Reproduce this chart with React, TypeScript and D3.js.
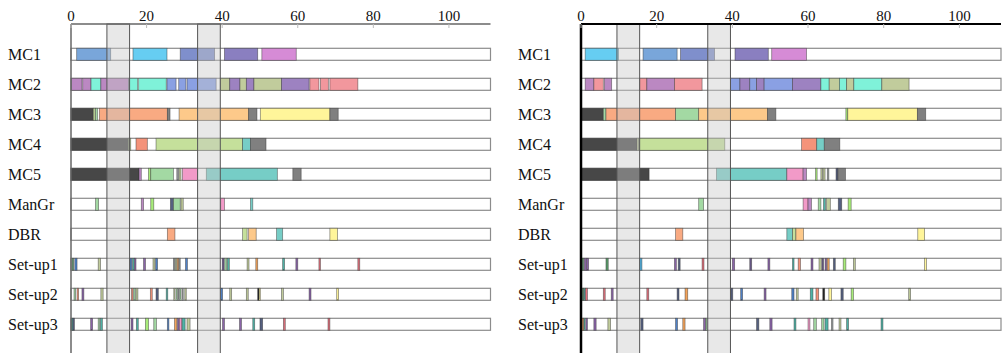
import React from "react";
import * as d3 from "d3";

const rows = ["MC1", "MC2", "MC3", "MC4", "MC5", "ManGr", "DBR", "Set-up1", "Set-up2", "Set-up3"];
const xTicks = [0, 20, 40, 60, 80, 100];
const xMax = 111;
const shadedWindows: [number, number][] = [[9.5, 15.5], [33.5, 39.5]];

const palette: Record<string, string> = {
  blue: "#79a6da", cyan: "#66cdf2", slate: "#7f8fcc", violet: "#8a7fc0", orchid: "#d68bd6",
  mauve: "#bb88c2", pink: "#f2979d", aqua: "#7ff2d9", olive: "#c1cc9c", purple: "#9d82c1",
  corn: "#8aa0e3", dark: "#474747", gray: "#808080", salmon: "#f9aa82", coral: "#f4937a",
  lorange: "#fdc98a", yellow: "#fff59a", lgreen: "#c5e09b", teal: "#76cdc6", green: "#a3d9a3",
  pink2: "#f29ac8", bgreen: "#a8ec7a", red: "#e0707c", orange: "#f3a35a", dkpurple: "#6a5a8a",
  dkgreen: "#5a9a6a", dkslate: "#556080", black: "#222222", sblue: "#4f80c6", spurple: "#8a64a8",
  steal: "#4fb3a6", sgray: "#9aa0a0", sblue2: "#50b0e0",
};

type Seg = [number, number, string];

// ---------- Left panel ----------
const leftMC1: Seg[] = [[1.5, 10.5, "blue"], [16.4, 25.4, "cyan"], [28.9, 38.0, "slate"], [40.6, 49.4, "violet"], [50.5, 59.6, "orchid"]];
const leftMC2: Seg[] = [
  [0.1, 2.9, "mauve"], [3.1, 5.3, "mauve"], [5.3, 7.9, "aqua"], [7.9, 15.3, "mauve"], [15.3, 17.6, "aqua"],
  [17.9, 25.2, "aqua"], [25.4, 27.8, "corn"], [28.5, 30.4, "corn"], [30.7, 38.4, "corn"], [39.5, 42.0, "olive"],
  [42.0, 44.7, "purple"], [44.7, 46.4, "olive"], [46.4, 48.4, "purple"], [48.4, 55.7, "olive"], [55.7, 63.0, "purple"],
  [63.2, 65.6, "pink"], [66.0, 68.1, "pink"], [68.5, 75.9, "pink"],
];
const leftMC3: Seg[] = [
  [0, 5.9, "dark"], [5.9, 6.4, "lgreen"], [6.5, 7.0, "green"], [7.5, 25.5, "salmon"], [25.5, 26.2, "gray"],
  [28.6, 47.0, "lorange"], [47.0, 49.2, "gray"], [50.1, 68.5, "yellow"], [68.5, 70.7, "gray"],
];
const leftMC4: Seg[] = [
  [0, 15.2, "dark"], [15.2, 15.8, "lgreen"], [17.2, 20.2, "coral"], [22.5, 45.4, "lgreen"], [45.4, 47.5, "teal"], [47.5, 51.6, "gray"],
];
const leftMC5: Seg[] = [
  [0, 18.0, "dark"], [18.0, 18.6, "mauve"], [20.5, 21.1, "bgreen"], [21.1, 27.1, "green"], [28.0, 28.4, "sgray"],
  [28.6, 29.1, "olive"], [29.5, 33.5, "pink2"], [35.8, 54.6, "teal"], [58.7, 60.9, "gray"],
];
const leftManGr: Seg[] = [
  [6.5, 7.3, "green"], [18.6, 19.2, "mauve"], [21.1, 21.9, "bgreen"], [26.3, 27.1, "dkslate"], [27.1, 28.9, "green"],
  [29.1, 29.7, "olive"], [39.6, 40.6, "pink2"], [47.5, 48.1, "teal"],
];
const leftDBR: Seg[] = [[25.5, 27.5, "salmon"], [45.4, 46.6, "lgreen"], [47.0, 49.0, "lorange"], [54.4, 56.0, "teal"], [68.5, 70.5, "yellow"]];
const leftSet1: Seg[] = [
  [0.3, 0.7, "dkgreen"], [1.0, 1.6, "sblue"], [7.2, 7.8, "olive"], [15.6, 16.1, "sblue"], [16.3, 16.7, "steal"], [16.8, 17.2, "spurple"],
  [19.2, 19.7, "spurple"], [21.7, 22.2, "olive"], [22.4, 22.9, "sblue"], [27.1, 27.5, "sgray"], [27.6, 28.0, "olive"], [28.1, 28.5, "orange"],
  [28.6, 28.9, "sgray"], [30.3, 30.8, "sblue"], [40.0, 40.5, "dkpurple"], [40.7, 41.2, "green"], [41.4, 41.9, "steal"], [46.6, 47.1, "olive"],
  [48.9, 49.4, "orange"], [56.0, 56.5, "steal"], [59.5, 60.0, "spurple"], [65.6, 66.0, "red"], [75.9, 76.4, "red"],
];
const leftSet2: Seg[] = [
  [0.8, 1.2, "green"], [1.6, 2.0, "coral"], [2.9, 3.4, "spurple"], [7.9, 8.5, "olive"], [16.0, 16.4, "coral"], [16.6, 17.0, "green"],
  [17.2, 17.7, "olive"], [21.0, 21.5, "coral"], [22.5, 23.1, "dkslate"], [25.2, 25.6, "steal"], [27.2, 27.5, "olive"], [27.8, 28.1, "green"],
  [28.3, 28.6, "sgray"], [28.8, 29.1, "green"], [29.4, 29.7, "sgray"], [30.1, 30.5, "olive"], [39.6, 40.1, "sblue"], [42.0, 42.5, "olive"],
  [46.4, 46.9, "olive"], [49.4, 49.8, "black"], [49.8, 50.1, "yellow"], [55.7, 56.2, "olive"], [63.0, 63.5, "spurple"], [70.3, 70.8, "yellow"],
];
const leftSet3: Seg[] = [
  [0.1, 0.5, "steal"], [0.5, 0.9, "dkslate"], [5.2, 5.7, "spurple"], [7.2, 7.6, "green"], [7.8, 8.3, "steal"], [15.9, 16.4, "spurple"],
  [17.3, 17.8, "steal"], [19.7, 20.5, "bgreen"], [21.9, 22.6, "green"], [25.5, 25.9, "sblue"], [27.4, 28.0, "orange"], [28.2, 28.6, "spurple"],
  [28.7, 29.3, "pink2"], [29.4, 30.2, "steal"], [30.7, 31.5, "olive"], [40.1, 40.6, "spurple"], [44.6, 45.1, "spurple"], [48.1, 48.6, "steal"],
  [50.0, 50.7, "dkslate"], [56.2, 56.7, "red"], [68.0, 68.5, "red"],
];

// ---------- Right panel ----------
const rightMC1: Seg[] = [[1.1, 9.9, "cyan"], [16.4, 25.4, "blue"], [26.3, 35.3, "slate"], [40.7, 49.5, "violet"], [50.4, 59.6, "orchid"]];
const rightMC2: Seg[] = [
  [1.1, 3.4, "mauve"], [3.4, 5.9, "pink"], [6.2, 8.1, "mauve"], [15.5, 17.4, "pink"], [17.4, 24.7, "mauve"], [24.7, 32.0, "pink"],
  [39.5, 42.0, "corn"], [42.0, 44.6, "purple"], [44.6, 46.4, "corn"], [46.4, 48.4, "purple"], [48.4, 55.9, "corn"], [55.9, 63.4, "purple"],
  [63.4, 65.6, "aqua"], [65.6, 68.3, "olive"], [68.3, 70.2, "aqua"], [70.2, 72.1, "olive"], [72.1, 79.5, "aqua"], [79.5, 86.7, "olive"],
];
const rightMC3: Seg[] = [
  [0, 5.9, "dark"], [5.9, 6.6, "green"], [6.6, 25.0, "salmon"], [25.0, 31.1, "green"], [31.1, 49.3, "lorange"], [49.3, 51.5, "gray"],
  [70.0, 70.5, "bgreen"], [70.5, 88.9, "yellow"], [88.9, 91.1, "gray"],
];
const rightMC4: Seg[] = [[0, 14.8, "dark"], [14.8, 15.3, "olive"], [15.3, 38.0, "lgreen"], [58.3, 62.3, "coral"], [62.3, 64.3, "teal"], [64.3, 68.4, "gray"]];
const rightMC5: Seg[] = [
  [0, 18.0, "dark"], [35.8, 54.4, "teal"], [54.4, 58.7, "pink2"], [58.7, 59.6, "mauve"], [62.0, 62.4, "bgreen"], [63.4, 63.8, "olive"],
  [64.0, 64.5, "olive"], [65.1, 65.5, "sgray"], [67.4, 67.9, "dkslate"], [67.9, 69.9, "gray"],
];
const rightManGr: Seg[] = [
  [31.1, 32.4, "green"], [58.7, 60.0, "pink2"], [60.0, 60.9, "mauve"], [62.7, 63.4, "green"], [64.1, 64.6, "steal"], [64.9, 65.9, "olive"],
  [68.0, 68.9, "dkslate"], [70.6, 71.4, "bgreen"],
];
const rightDBR: Seg[] = [[25.0, 26.9, "salmon"], [54.4, 55.9, "teal"], [55.9, 56.8, "lgreen"], [56.8, 58.8, "lorange"], [89.0, 90.8, "yellow"]];
const rightSet1: Seg[] = [
  [0.3, 0.7, "dkgreen"], [0.9, 1.4, "spurple"], [1.5, 2.0, "spurple"], [6.6, 7.2, "dkgreen"], [15.5, 16.1, "sblue2"], [24.7, 25.2, "spurple"],
  [25.7, 26.2, "dkslate"], [32.0, 32.5, "red"], [40.0, 40.6, "spurple"], [44.6, 45.1, "dkpurple"], [49.4, 49.9, "spurple"], [55.9, 56.3, "steal"],
  [57.4, 58.0, "coral"], [60.8, 61.3, "spurple"], [62.9, 63.5, "olive"], [63.7, 64.1, "dkpurple"], [64.5, 64.9, "spurple"], [65.1, 65.6, "orange"],
  [66.7, 67.2, "dkslate"], [69.3, 70.0, "bgreen"], [72.0, 72.5, "olive"], [90.8, 91.3, "yellow"],
];
const rightSet2: Seg[] = [
  [0.3, 0.7, "dkgreen"], [0.8, 1.1, "steal"], [1.2, 1.7, "red"], [5.9, 6.4, "red"], [8.0, 8.5, "spurple"], [17.4, 17.9, "red"],
  [25.4, 25.9, "dkslate"], [27.5, 28.2, "orange"], [39.6, 40.1, "dkslate"], [42.2, 42.7, "sblue"], [48.4, 48.9, "spurple"], [55.7, 56.3, "sblue"],
  [56.9, 57.4, "olive"], [60.6, 61.3, "steal"], [62.1, 62.8, "coral"], [63.9, 64.4, "black"], [65.5, 66.2, "yellow"], [68.7, 69.3, "dkslate"],
  [71.4, 72.0, "bgreen"], [86.6, 87.1, "olive"],
];
const rightSet3: Seg[] = [
  [0.3, 0.7, "orange"], [0.8, 1.1, "steal"], [1.3, 1.7, "spurple"], [3.4, 4.0, "spurple"], [7.1, 7.8, "olive"], [15.8, 16.4, "dkslate"],
  [25.0, 25.5, "sblue"], [26.9, 27.5, "orange"], [32.4, 32.9, "spurple"], [33.0, 33.3, "green"], [46.4, 47.0, "dkslate"], [49.9, 50.5, "spurple"],
  [56.3, 56.8, "steal"], [60.0, 60.5, "pink2"], [61.5, 62.2, "green"], [63.6, 64.2, "green"], [64.5, 65.3, "steal"], [66.2, 66.6, "sgray"],
  [68.2, 68.7, "olive"], [70.2, 70.7, "steal"], [79.3, 79.8, "steal"],
];

const leftRows = [leftMC1, leftMC2, leftMC3, leftMC4, leftMC5, leftManGr, leftDBR, leftSet1, leftSet2, leftSet3];
const rightRows = [rightMC1, rightMC2, rightMC3, rightMC4, rightMC5, rightManGr, rightDBR, rightSet1, rightSet2, rightSet3];

const W = 1005;
const H = 353;
const axisY = 24;
const barH = 12;
const font = "'Liberation Serif', 'Times New Roman', serif";

const yScale = d3.scaleBand<string>().domain(rows).range([39.3, 339.3]).padding(0);

function Panel({ x0, x1, labelX, data, strong }: { x0: number; x1: number; labelX: number; data: Seg[][]; strong: boolean }) {
  const x = d3.scaleLinear().domain([0, xMax]).range([x0, x1]);
  const axisColor = strong ? "#000" : "#666";
  return (
    <g>
      {rows.map((r, i) => {
        const cy = (yScale(r) as number) + yScale.bandwidth() / 2;
        return (
          <g key={r}>
            <text x={labelX} y={cy} dy="0.35em" fontFamily={font} fontSize={16} fill="#111">{r}</text>
            <rect x={x(0)} y={cy - barH / 2} width={x(xMax) - x(0)} height={barH} fill="#fff" stroke="#8c8c8c" strokeWidth={1.2} />
            {data[i].map((s, j) => (
              <rect key={j} x={x(s[0])} y={cy - barH / 2} width={Math.max(0.8, x(s[1]) - x(s[0]))} height={barH}
                fill={palette[s[2]]} stroke="#333" strokeOpacity={0.55} strokeWidth={0.8} />
            ))}
          </g>
        );
      })}
      {shadedWindows.map((w, k) => (
        <rect key={k} x={x(w[0])} y={axisY} width={x(w[1]) - x(w[0])} height={H - axisY + 2}
          fill="#c8c8c8" fillOpacity={0.42} stroke="#555" strokeWidth={1} />
      ))}
      <line x1={x0} x2={x1} y1={axisY} y2={axisY} stroke={axisColor} strokeWidth={strong ? 2 : 1.5} />
      <line x1={x0} x2={x0} y1={axisY} y2={H + 2} stroke={axisColor} strokeWidth={strong ? 2.5 : 1.5} />
      {xTicks.map((t) => (
        <g key={t}>
          <line x1={x(t)} x2={x(t)} y1={axisY} y2={axisY + 4} stroke="#bbb" strokeWidth={1} />
          <text x={x(t)} y={21} textAnchor="middle" fontFamily={font} fontSize={15} fill="#111">{t}</text>
        </g>
      ))}
    </g>
  );
}

export default function App() {
  return (
    <svg width={W} height={H} style={{ position: "absolute", left: 0, top: 0, background: "#fff" }}>
      <rect x={0} y={0} width={W} height={H} fill="#fff" />
      <Panel x0={71} x1={490.5} labelX={8} data={leftRows} strong={false} />
      <Panel x0={581} x1={1001} labelX={518} data={rightRows} strong={true} />
    </svg>
  );
}
